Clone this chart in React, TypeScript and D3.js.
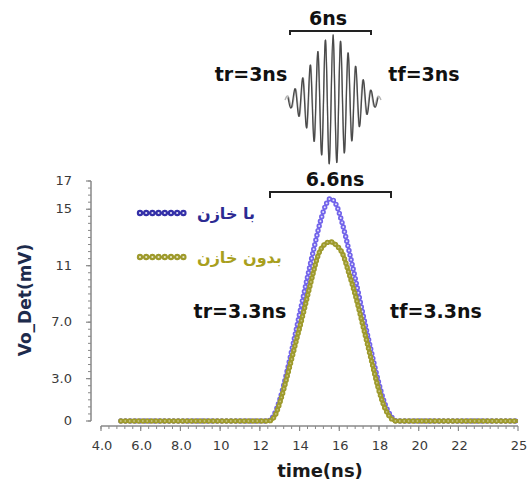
import React from "react";
import * as d3 from "d3";

// ---- data ----
const timeWith = [5, 12.0, 12.4, 12.7, 13.0, 13.35, 13.7, 14.05, 14.4, 14.75, 15.1, 15.35, 15.55, 15.85, 16.15, 16.5, 16.85, 17.2, 17.6, 17.95, 18.3, 18.6, 18.9, 19.5, 25];
const voWith = [0, 0, 0, 0.4, 1.5, 3.4, 5.6, 7.9, 10.2, 12.4, 14.4, 15.4, 15.75, 15.3, 14.0, 12.0, 9.8, 7.5, 5.0, 2.9, 1.2, 0.35, 0, 0, 0];

const timeWithout = [5, 12.0, 12.45, 12.75, 13.05, 13.4, 13.8, 14.2, 14.6, 14.95, 15.25, 15.55, 15.85, 16.15, 16.5, 16.85, 17.2, 17.6, 17.95, 18.3, 18.6, 18.85, 19.5, 25];
const voWithout = [0, 0, 0, 0.35, 1.5, 3.3, 5.5, 7.7, 10.0, 11.8, 12.5, 12.7, 12.45, 11.9, 10.4, 8.7, 6.7, 4.4, 2.4, 0.9, 0.2, 0, 0, 0];

const seriesNames = ["با خازن", "بدون خازن"];

const yTickValues = [0, 3, 7, 11, 15, 17];
const yTickLabels = ["0", "3.0", "7.0", "11", "15", "17"];
const xTickValues = [4, 6, 8, 10, 12, 14, 16, 18, 20, 22, 25];
const xTickLabels = ["4.0", "6.0", "8.0", "10", "12", "14", "16", "18", "20", "22", "25"];

// inset burst: signed extremum amplitudes (relative), read left to right
const burstExtrema = [0.04, -0.1, 0.16, -0.24, 0.33, -0.42, 0.53, -0.63, 0.74, -0.84, 0.92, -0.98, 1.0, -0.96, 0.9, -0.81, 0.72, -0.62, 0.51, -0.4, 0.3, -0.21, 0.14, -0.09, 0.04];

const BLUE = "#7264ea";
const BLUE_DARK = "#3430a8";
const OLIVE = "#9e9a2c";
const OLIVE_TEXT = "#a89f1e";

export default function App() {
  const W = 530, H = 483;
  const x = d3.scaleLinear().domain([4, 25]).range([101, 518]);
  const y = d3.scaleLinear().domain([0, 17]).range([421, 181]);

  const line = d3
    .line<[number, number]>()
    .x((d) => x(d[0]))
    .y((d) => y(d[1]))
    .curve(d3.curveMonotoneX);

  const withPts = timeWith.map((t, i) => [t, voWith[i]] as [number, number]);
  const withoutPts = timeWithout.map((t, i) => [t, voWithout[i]] as [number, number]);

  const yMinor = d3.range(0, 17.001, 0.5);
  const xMinor = d3.range(4, 25.001, 0.4);

  const bx = d3.scaleLinear().domain([0, burstExtrema.length - 1]).range([288, 378]);
  const by = d3.scaleLinear().domain([-1, 1]).range([165, 35]);
  const burstLine = d3
    .line<number>()
    .x((_, i) => bx(i))
    .y((d) => by(d))
    .curve(d3.curveNatural);
  const burstPts = [0, ...burstExtrema, 0];
  const bx2 = d3.scaleLinear().domain([0, burstPts.length - 1]).range([285, 381]);
  const burstLine2 = d3
    .line<number>()
    .x((_, i) => bx2(i))
    .y((d) => by(d))
    .curve(d3.curveNatural);

  const ringPath = (d: string | null, color: string, key: string, inner = 0.8, w = 5.4, gap = 4.8, iw = 2) => (
    <g key={key}>
      <path d={d || ""} fill="none" stroke={color} strokeWidth={w} strokeLinecap="round" strokeDasharray={`0 ${gap}`} />
      <path d={d || ""} fill="none" stroke="#ffffff" strokeOpacity={inner} strokeWidth={iw} strokeLinecap="round" strokeDasharray={`0 ${gap}`} />
    </g>
  );

  const legendLine = (yy: number) =>
    d3.line<number>().x((d) => d).y(() => yy)([140, 185]);

  const boldFont = "'DejaVu Sans', sans-serif";
  const arabicFont = "'DejaVu Sans', sans-serif";
  const tickFont = "'DejaVu Sans', sans-serif";

  return (
    <svg width={W} height={H} style={{ position: "absolute", left: 0, top: 0, background: "#fff" }}>
      {/* inset burst */}
      <path d={burstLine2(burstPts) || ""} fill="none" stroke="#b4b4b4" strokeWidth={1.4} />
      <path d={burstLine(burstExtrema) || ""} fill="none" stroke="#4a4a4a" strokeWidth={1.3} />

      {/* top annotations */}
      <text x={328} y={25} textAnchor="middle" fontFamily={boldFont} fontWeight={700} fontSize={19} fill="#111">6ns</text>
      <path d="M290,35 L290,31 L371,31 L371,35" fill="none" stroke="#222" strokeWidth={2} />
      <text x={251} y={81} textAnchor="middle" fontFamily={boldFont} fontWeight={700} fontSize={19} fill="#111">tr=3ns</text>
      <text x={424} y={81} textAnchor="middle" fontFamily={boldFont} fontWeight={700} fontSize={19} fill="#111">tf=3ns</text>

      <text x={335} y={186} textAnchor="middle" fontFamily={boldFont} fontWeight={700} fontSize={19} fill="#111">6.6ns</text>
      <path d="M270,198 L270,192 L391,192 L391,198" fill="none" stroke="#222" strokeWidth={2} />
      <text x={240} y={318} textAnchor="middle" fontFamily={boldFont} fontWeight={700} fontSize={19} fill="#111">tr=3.3ns</text>
      <text x={436} y={318} textAnchor="middle" fontFamily={boldFont} fontWeight={700} fontSize={19} fill="#111">tf=3.3ns</text>

      {/* y axis */}
      <line x1={91} x2={91} y1={y(17)} y2={y(0)} stroke="#888" strokeWidth={1.5} />
      {yMinor.map((v) => (
        <line key={"ym" + v} x1={88} x2={91} y1={y(v)} y2={y(v)} stroke="#888" strokeWidth={1} />
      ))}
      {yTickValues.map((v, i) => (
        <g key={"yt" + v}>
          <line x1={86} x2={91} y1={y(v)} y2={y(v)} stroke="#888" strokeWidth={1.2} />
          <text x={72} y={y(v) + 4} textAnchor="end" fontFamily={tickFont} fontSize={13} fill="#3a3a3a">
            {yTickLabels[i]}
          </text>
        </g>
      ))}
      <text
        transform="translate(31,300) rotate(-90)"
        textAnchor="middle"
        fontFamily={boldFont}
        fontWeight={700}
        fontSize={17}
        fill="#1d2b4c"
      >
        Vo_Det(mV)
      </text>

      {/* x axis */}
      <line x1={x(4)} x2={x(25)} y1={426} y2={426} stroke="#888" strokeWidth={1.5} />
      {xMinor.map((v) => (
        <line key={"xm" + v} x1={x(v)} x2={x(v)} y1={426} y2={429} stroke="#888" strokeWidth={1} />
      ))}
      {xTickValues.map((v, i) => (
        <g key={"xt" + v}>
          <line x1={x(v)} x2={x(v)} y1={426} y2={431} stroke="#888" strokeWidth={1.2} />
          <text x={x(v) + 1} y={450} textAnchor="middle" fontFamily={tickFont} fontSize={13} fill="#3a3a3a">
            {xTickLabels[i]}
          </text>
        </g>
      ))}
      <text x={320} y={477} textAnchor="middle" fontFamily={boldFont} fontWeight={700} fontSize={18} fill="#1a1a1a">
        time(ns)
      </text>

      {/* series */}
      {ringPath(line(withPts), BLUE, "blue", 0.8)}
      <path d={line(withoutPts) || ""} fill="none" stroke={OLIVE} strokeWidth={4} strokeOpacity={0.85} />
      {ringPath(line(withoutPts), OLIVE, "olive", 0.4, 5.4, 4.4, 1.8)}

      {/* legend */}
      {ringPath(legendLine(213), BLUE_DARK, "lb", 0.85, 6.4, 6.2, 2.2)}
      <text x={197} y={219} fontFamily={arabicFont} fontWeight={700} fontSize={16} fill="#2c2a92">{seriesNames[0]}</text>
      {ringPath(legendLine(257), OLIVE, "lo", 0.75, 6.4, 6.2, 2.2)}
      <text x={197} y={263} fontFamily={arabicFont} fontWeight={700} fontSize={16} fill={OLIVE_TEXT}>{seriesNames[1]}</text>
    </svg>
  );
}
